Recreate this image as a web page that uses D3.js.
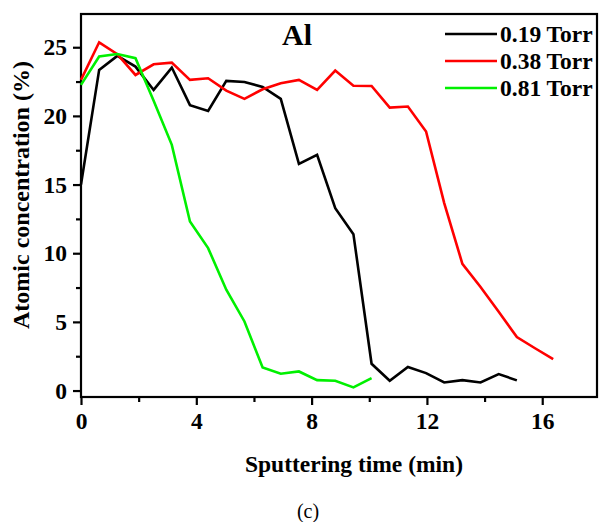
<!DOCTYPE html>
<html>
<head>
<meta charset="utf-8">
<script src="https://cdn.jsdelivr.net/npm/d3@7/dist/d3.min.js"></script>
<style>
  body { margin: 0; background: #fff; }
  svg text { font-family: "Liberation Serif", "Times New Roman", serif; }
</style>
</head>
<body>
<div id="chart"></div>
<script>
// Sputtering time (min) for each measurement
const times = [0, 0.63, 1.26, 1.89, 2.52, 3.15, 3.78, 4.41, 5.04, 5.67, 6.3, 6.93, 7.56, 8.19,
               8.82, 9.45, 10.08, 10.71, 11.34, 11.97, 12.6, 13.23, 13.86, 14.49, 15.12, 15.75, 16.38];

// Al atomic concentration (%)
const torr019 = [15.0, 23.35, 24.37, 23.59, 21.89, 23.52, 20.78, 20.36, 22.55, 22.47, 22.11, 21.24, 16.51,
                 17.16, 13.28, 11.39, 1.95, 0.71, 1.71, 1.27, 0.59, 0.76, 0.59, 1.2, 0.74];
const torr038 = [22.62, 25.36, 24.49, 22.98, 23.76, 23.88, 22.62, 22.74, 21.84, 21.24, 21.94, 22.38, 22.62,
                 21.89, 23.3, 22.2, 22.18, 20.6, 20.68, 18.86, 13.65, 9.23, 7.54, 5.74, 3.89, 3.08, 2.29];
const torr081 = [22.26, 24.32, 24.51, 24.2, 21.1, 17.89, 12.31, 10.37, 7.34, 5.03, 1.68, 1.22, 1.39,
                 0.76, 0.71, 0.23, 0.91];

const seriesNames = ["0.19 Torr", "0.38 Torr", "0.81 Torr"];
const seriesValues = [torr019, torr038, torr081];
const colors = ["#000000", "#ff0000", "#00f000"];

const xMajor = [0, 4, 8, 12, 16];
const xMinor = [2, 6, 10, 14];
const yMajor = [0, 5, 10, 15, 20, 25];
const yMinor = [2.5, 7.5, 12.5, 17.5, 22.5];

// layout
const W = 599, H = 522;
const margin = {left: 81, right: 597, top: 14, bottom: 397};
const font = "Liberation Serif, Times New Roman, serif";

const svg = d3.select("#chart").append("svg")
    .attr("width", W).attr("height", H);

const x = d3.scaleLinear().domain([0, 17.9]).range([margin.left, margin.right]);
const y = d3.scaleLinear().domain([-0.47, 27.42]).range([margin.bottom, margin.top]);

// minor ticks first (no labels)
svg.append("g")
   .attr("transform", `translate(0,${margin.bottom})`)
   .call(d3.axisBottom(x).tickValues(xMinor).tickSize(5).tickFormat(""))
   .call(g => g.select(".domain").remove())
   .call(g => g.selectAll("line").attr("stroke", "#000").attr("stroke-width", 2.2));

svg.append("g")
   .attr("transform", `translate(${margin.left},0)`)
   .call(d3.axisLeft(y).tickValues(yMinor).tickSize(5).tickFormat(""))
   .call(g => g.select(".domain").remove())
   .call(g => g.selectAll("line").attr("stroke", "#000").attr("stroke-width", 2.2));

// major axes
const xAxis = svg.append("g")
   .attr("transform", `translate(0,${margin.bottom})`)
   .call(d3.axisBottom(x).tickValues(xMajor).tickSize(8).tickPadding(7).tickFormat(d3.format("d")));

const yAxis = svg.append("g")
   .attr("transform", `translate(${margin.left},0)`)
   .call(d3.axisLeft(y).tickValues(yMajor).tickSize(8).tickPadding(6).tickFormat(d3.format("d")));

[xAxis, yAxis].forEach(a => {
    a.select(".domain").remove();
    a.selectAll("line").attr("stroke", "#000").attr("stroke-width", 2.2);
    a.selectAll("text")
     .attr("fill", "#000")
     .style("font-family", font)
     .style("font-size", "23.5px")
     .style("font-weight", "bold");
});

// frame
svg.append("rect")
   .attr("x", margin.left).attr("y", margin.top)
   .attr("width", margin.right - margin.left).attr("height", margin.bottom - margin.top)
   .attr("fill", "none").attr("stroke", "#000").attr("stroke-width", 2.2);

// lines
const line = d3.line()
    .x((d, i) => x(times[i]))
    .y(d => y(d));

seriesValues.forEach((vals, k) => {
    svg.append("path")
       .datum(vals)
       .attr("fill", "none")
       .attr("stroke", colors[k])
       .attr("stroke-width", 2.6)
       .attr("stroke-linejoin", "miter")
       .attr("d", line);
});

// title
svg.append("text")
   .attr("x", 282).attr("y", 45)
   .style("font-family", font)
   .style("font-size", "30px")
   .style("font-weight", "bold")
   .text("Al");

// legend
seriesNames.forEach((name, k) => {
    const ly = 34 + k * 27;
    svg.append("line")
       .attr("x1", 445).attr("x2", 497)
       .attr("y1", ly).attr("y2", ly)
       .attr("stroke", colors[k]).attr("stroke-width", 2.6);
    svg.append("text")
       .attr("x", 500).attr("y", ly + 8)
       .style("font-family", font)
       .style("font-size", "23.5px")
       .style("font-weight", "bold")
       .text(name);
});

// axis labels
svg.append("text")
   .attr("x", 354).attr("y", 472)
   .attr("text-anchor", "middle")
   .style("font-family", font)
   .style("font-size", "23.5px")
   .style("font-weight", "bold")
   .text("Sputtering time (min)");

svg.append("text")
   .attr("transform", "translate(29,195) rotate(-90)")
   .attr("text-anchor", "middle")
   .style("font-family", font)
   .style("font-size", "24px")
   .style("font-weight", "bold")
   .text("Atomic concentration (%)");

svg.append("text")
   .attr("x", 308).attr("y", 518)
   .attr("text-anchor", "middle")
   .style("font-family", font)
   .style("font-size", "20px")
   .text("(c)");
</script>
</body>
</html>
